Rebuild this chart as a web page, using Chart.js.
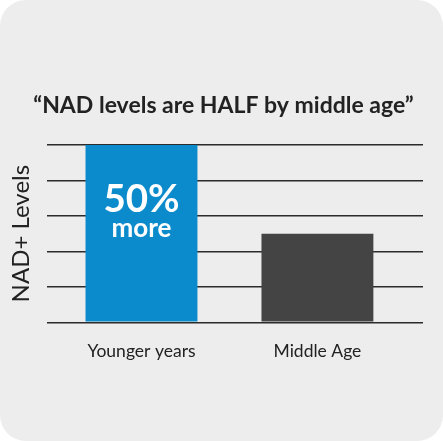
<!DOCTYPE html>
<html>
<head>
<meta charset="utf-8">
<script src="https://cdn.jsdelivr.net/npm/chart.js@4/dist/chart.umd.min.js"></script>
<style>
  html, body { margin: 0; padding: 0; background: #ffffff; }
  #card {
    width: 443px; height: 441px;
    background: #ededed;
    border-radius: 26px;
    overflow: hidden;
  }
  canvas { display: block; }
</style>
</head>
<body>
<div id="card"><canvas id="nadChart" width="443" height="441"></canvas></div>
<script>
// chart data
const categories = ["Younger years", "Middle Age"];
const nadLevels = [5, 2.5];
const barColors = ["#0b8bcb", "#444444"];
const yTicks = [0, 1, 2, 3, 4, 5];
const titleText = "\u201cNAD levels are HALF by middle age\u201d";
const barNote = ["50%", "more"];

// white callout inside the first bar
const barNotePlugin = {
  id: "barNote",
  afterDatasetsDraw(chart) {
    const bar = chart.getDatasetMeta(0).data[0];
    if (!bar) return;
    const c = chart.ctx;
    c.save();
    c.fillStyle = "#ffffff";
    c.textAlign = "center";
    c.textBaseline = "alphabetic";
    c.font = "bold 38.5px Lato";
    c.fillText(barNote[0], bar.x, bar.y + 66.5);
    c.font = "bold 26px Lato";
    c.fillText(barNote[1], bar.x, bar.y + 91.5);
    c.restore();
  },
};

document.addEventListener("DOMContentLoaded", function () {
  const ctx = document.getElementById("nadChart");
  new Chart(ctx, {
    type: "bar",
    data: {
      datasets: [
        {
          label: "NAD+ Levels",
          data: nadLevels.map((v, i) => ({ x: i, y: v })),
          backgroundColor: barColors,
          borderWidth: 0,
          categoryPercentage: 1,
          barPercentage: 0.636,
        },
      ],
    },
    options: {
      responsive: false,
      animation: false,
      layout: { padding: { left: 4, right: 0, top: 0, bottom: 0 } },
      plugins: {
        legend: { display: false },
        tooltip: { enabled: false },
        title: {
          display: true,
          text: titleText,
          color: "#222222",
          font: { family: "Lato", size: 23, weight: "bold" },
          padding: { top: 91.6, bottom: 25.8 },
        },
      },
      scales: {
        x: {
          type: "linear",
          offset: false,
          min: -0.537,
          max: 1.6,
          grid: { display: false },
          border: { display: false },
          afterBuildTicks: (scale) => {
            scale.ticks = categories.map((c, i) => ({ value: i }));
          },
          afterFit: (scale) => {
            scale.height = 118.7;
          },
          ticks: {
            padding: 11,
            color: "#222222",
            font: { family: "Lato", size: 17.5 },
            callback: (v) => categories[v] ?? "",
          },
        },
        y: {
          min: yTicks[0],
          max: yTicks[yTicks.length - 1],
          afterBuildTicks: (scale) => {
            scale.ticks = yTicks.map((v) => ({ value: v }));
          },
          afterFit: (scale) => {
            scale.width = 43;
          },
          grid: { color: "#2b2b2b", lineWidth: 1.6, drawTicks: false },
          border: { display: false },
          ticks: { display: false },
          title: {
            display: true,
            text: "NAD+ Levels",
            color: "#222222",
            font: { family: "Lato", size: 24 },
            padding: { top: 2.6, bottom: 0 },
          },
        },
        yRight: {
          position: "right",
          grid: { display: false },
          border: { display: false },
          ticks: { display: false },
          afterFit: (scale) => {
            scale.width = 20;
          },
        },
      },
    },
    plugins: [barNotePlugin],
  });
});
</script>
</body>
</html>
